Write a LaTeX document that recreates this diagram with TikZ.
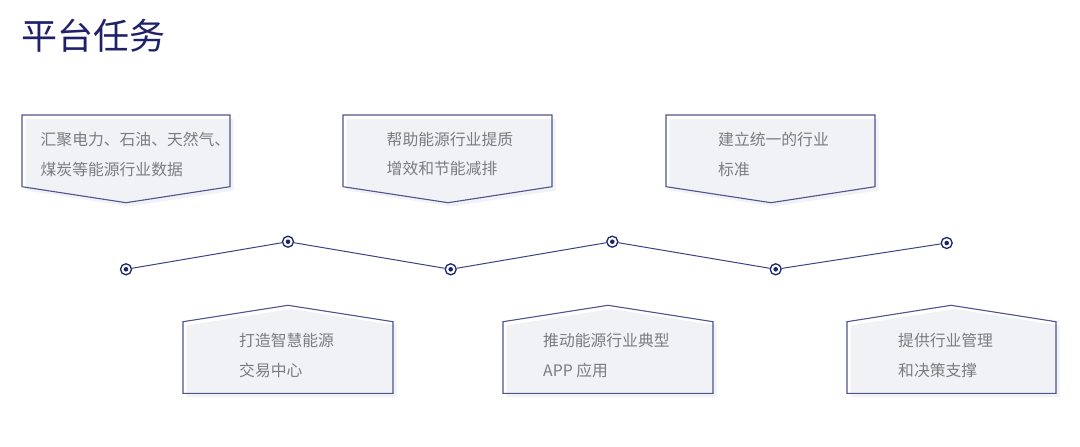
\documentclass[tikz,border=0pt]{standalone}
\usepackage{fontspec}
\setmainfont{Noto Sans CJK SC}
\newfontfamily\cjk{Noto Sans CJK SC}
\definecolor{titlec}{HTML}{1F2169}
\definecolor{outl}{HTML}{50538F}
\definecolor{linec}{HTML}{3D4185}
\definecolor{dotc}{HTML}{1B2768}
\definecolor{txtc}{HTML}{7C7C7C}
\definecolor{boxfill}{HTML}{F1F2F6}
\tikzset{
  dotnode/.style={circle, draw=dotc, line width=1.3pt, fill=white, minimum size=11pt, inner sep=0pt},
  link/.style={draw=linec, line width=1pt},
  boxline/.style={draw=outl, line width=1.1pt, line join=miter},
  boxshade/.style={fill=boxfill},
  txt/.style={anchor=west, text=txtc, font=\cjk\fontsize{15.8}{17}\selectfont, inner sep=0pt},
  titletxt/.style={anchor=west, text=titlec, font=\cjk\fontsize{36}{40}\selectfont, inner sep=0pt}
}
\begin{document}
\begin{tikzpicture}[x=1pt,y=-1pt]
\useasboundingbox (0,0) rectangle (1080,447);
\node[titletxt] (title) at (21,36) {平台任务};
% top boxes (pointing down)
\foreach \l/\r/\m in {22/230/126, 343/552/448, 666/875/771}{
  \fill[boxshade] (\l+3.5,119) -- (\r+3.5,119) -- (\r+3.5,190.5) -- (\m+3.5,206.5) -- (\l+3.5,190.5) -- cycle;
  \draw[boxline] (\l,115) -- (\r,115) -- (\r,186.7) -- (\m,202.7) -- (\l,186.7) -- cycle;
}
% bottom boxes (pointing up)
\foreach \l/\r/\m in {183/393/288, 503/713/608, 847/1056/951}{
  \fill[boxshade] (\l+3.5,325.5) -- (\m+3.5,309) -- (\r+3.5,325.5) -- (\r+3.5,397) -- (\l+3.5,397) -- cycle;
  \draw[boxline] (\l,321.7) -- (\m,305.3) -- (\r,321.7) -- (\r,393.3) -- (\l,393.3) -- cycle;
}
% texts
\node[txt] (t1a) at (40.5,139.5) {汇聚电力、石油、天然气、};
\node[txt] (t1b) at (40.5,169) {煤炭等能源行业数据};
\node[txt] (t2a) at (386.5,139.5) {帮助能源行业提质};
\node[txt] (t2b) at (386.5,169) {增效和节能减排};
\node[txt] (t3a) at (718,139.5) {建立统一的行业};
\node[txt] (t3b) at (718,169) {标准};
\node[txt] (t4a) at (239,340.5) {打造智慧能源};
\node[txt] (t4b) at (239,370.5) {交易中心};
\node[txt] (t5a) at (543,340.5) {推动能源行业典型};
\node[txt] (t5b) at (543,370.5) {APP 应用};
\node[txt] (t6a) at (898,340.5) {提供行业管理};
\node[txt] (t6b) at (898,370.5) {和决策支撑};
% dots
\node[dotnode] (d1) at (126,269.3) {};
\node[dotnode] (d2) at (288,241.7) {};
\node[dotnode] (d3) at (450.7,269.3) {};
\node[dotnode] (d4) at (612.3,241.7) {};
\node[dotnode] (d5) at (775.7,269.3) {};
\node[dotnode] (d6) at (946.7,243) {};
\draw[link] (d1) -- (d2);
\draw[link] (d2) -- (d3);
\draw[link] (d3) -- (d4);
\draw[link] (d4) -- (d5);
\draw[link] (d5) -- (d6);
\foreach \d in {d1,d2,d3,d4,d5,d6}{
  \fill[dotc] (\d.center) circle (2.3pt);
}
\end{tikzpicture}
\end{document}
